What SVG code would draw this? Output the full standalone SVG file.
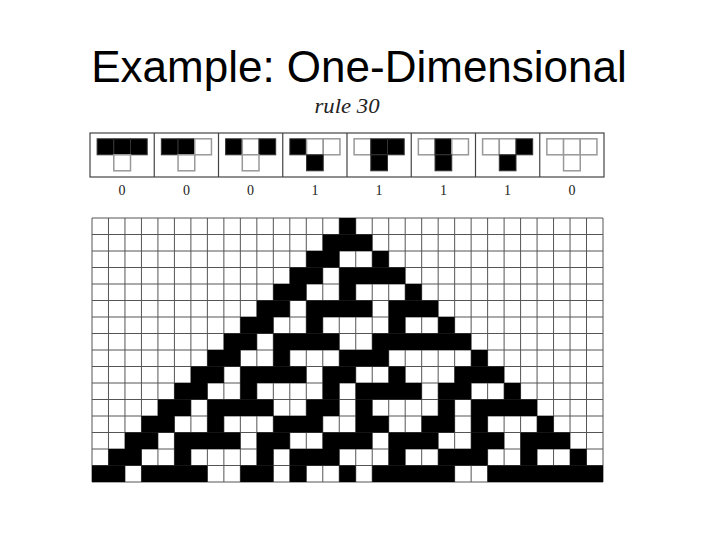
<svg xmlns="http://www.w3.org/2000/svg" width="720" height="540" viewBox="0 0 720 540">
<style>
.title{font-family:"Liberation Sans",Arial,sans-serif;font-size:44px;fill:#000}
.rule{font-family:"Liberation Serif","Times New Roman",serif;font-style:italic;font-size:21px;fill:#222}
.dig{font-family:"Liberation Serif","Times New Roman",serif;font-size:14px;fill:#222;text-anchor:middle}
.b{fill:#000;stroke:#333;stroke-width:1}
.w{fill:#fff;stroke:#999;stroke-width:1.5}
.frame{fill:none;stroke:#444;stroke-width:1.2}
.grid{fill:none;stroke:#555;stroke-width:1}
</style>
<rect width="720" height="540" fill="#fff"/>
<text class="title" x="359" y="82" text-anchor="middle">Example: One-Dimensional</text>
<text class="rule" x="347" y="113" text-anchor="middle" textLength="65" lengthAdjust="spacingAndGlyphs">rule 30</text>

<g id="rule-panel">
  <rect class="frame" x="90" y="133" width="514" height="44"/>
  <path class="frame" d="M154.25 133V177M218.5 133V177M282.75 133V177M347 133V177M411.25 133V177M475.5 133V177M539.75 133V177"/>
  <g id="r111" transform="translate(97.1,138.8)">
    <rect class="b" x="0" y="0" width="16.7" height="16"/><rect class="b" x="16.7" y="0" width="16.7" height="16"/><rect class="b" x="33.4" y="0" width="16.7" height="16"/>
    <rect class="w" x="16.7" y="16" width="16.7" height="16"/>
  </g>
  <g id="r110" transform="translate(161.35,138.8)">
    <rect class="b" x="0" y="0" width="16.7" height="16"/><rect class="b" x="16.7" y="0" width="16.7" height="16"/><rect class="w" x="33.4" y="0" width="16.7" height="16"/>
    <rect class="w" x="16.7" y="16" width="16.7" height="16"/>
  </g>
  <g id="r101" transform="translate(225.6,138.8)">
    <rect class="b" x="0" y="0" width="16.7" height="16"/><rect class="w" x="16.7" y="0" width="16.7" height="16"/><rect class="b" x="33.4" y="0" width="16.7" height="16"/>
    <rect class="w" x="16.7" y="16" width="16.7" height="16"/>
  </g>
  <g id="r100" transform="translate(289.85,138.8)">
    <rect class="b" x="0" y="0" width="16.7" height="16"/><rect class="w" x="16.7" y="0" width="16.7" height="16"/><rect class="w" x="33.4" y="0" width="16.7" height="16"/>
    <rect class="b" x="16.7" y="16" width="16.7" height="16"/>
  </g>
  <g id="r011" transform="translate(354.1,138.8)">
    <rect class="w" x="0" y="0" width="16.7" height="16"/><rect class="b" x="16.7" y="0" width="16.7" height="16"/><rect class="b" x="33.4" y="0" width="16.7" height="16"/>
    <rect class="b" x="16.7" y="16" width="16.7" height="16"/>
  </g>
  <g id="r010" transform="translate(418.35,138.8)">
    <rect class="w" x="0" y="0" width="16.7" height="16"/><rect class="b" x="16.7" y="0" width="16.7" height="16"/><rect class="w" x="33.4" y="0" width="16.7" height="16"/>
    <rect class="b" x="16.7" y="16" width="16.7" height="16"/>
  </g>
  <g id="r001" transform="translate(482.6,138.8)">
    <rect class="w" x="0" y="0" width="16.7" height="16"/><rect class="w" x="16.7" y="0" width="16.7" height="16"/><rect class="b" x="33.4" y="0" width="16.7" height="16"/>
    <rect class="b" x="16.7" y="16" width="16.7" height="16"/>
  </g>
  <g id="r000" transform="translate(546.85,138.8)">
    <rect class="w" x="0" y="0" width="16.7" height="16"/><rect class="w" x="16.7" y="0" width="16.7" height="16"/><rect class="w" x="33.4" y="0" width="16.7" height="16"/>
    <rect class="w" x="16.7" y="16" width="16.7" height="16"/>
  </g>
  <g id="outputs">
    <text class="dig" x="122.1" y="195">0</text>
    <text class="dig" x="186.4" y="195">0</text>
    <text class="dig" x="250.6" y="195">0</text>
    <text class="dig" x="314.9" y="195">1</text>
    <text class="dig" x="379.1" y="195">1</text>
    <text class="dig" x="443.4" y="195">1</text>
    <text class="dig" x="507.6" y="195">1</text>
    <text class="dig" x="571.9" y="195">0</text>
  </g>
</g>

<g id="evolution" transform="translate(92,218) scale(16.484,16.5)">
  <rect x="0" y="0" width="31" height="16" fill="#fff"/>
  <path class="grid" vector-effect="non-scaling-stroke" d="M0 0V16M1 0V16M2 0V16M3 0V16M4 0V16M5 0V16M6 0V16M7 0V16M8 0V16M9 0V16M10 0V16M11 0V16M12 0V16M13 0V16M14 0V16M15 0V16M16 0V16M17 0V16M18 0V16M19 0V16M20 0V16M21 0V16M22 0V16M23 0V16M24 0V16M25 0V16M26 0V16M27 0V16M28 0V16M29 0V16M30 0V16M31 0V16M0 0H31M0 1H31M0 2H31M0 3H31M0 4H31M0 5H31M0 6H31M0 7H31M0 8H31M0 9H31M0 10H31M0 11H31M0 12H31M0 13H31M0 14H31M0 15H31M0 16H31"/>
  <g fill="#000">
    <rect x="15" y="0" width="1" height="1"/>
    <rect x="14" y="1" width="3" height="1"/>
    <rect x="13" y="2" width="2" height="1"/><rect x="17" y="2" width="1" height="1"/>
    <rect x="12" y="3" width="2" height="1"/><rect x="15" y="3" width="4" height="1"/>
    <rect x="11" y="4" width="2" height="1"/><rect x="15" y="4" width="1" height="1"/><rect x="19" y="4" width="1" height="1"/>
    <rect x="10" y="5" width="2" height="1"/><rect x="13" y="5" width="4" height="1"/><rect x="18" y="5" width="3" height="1"/>
    <rect x="9" y="6" width="2" height="1"/><rect x="13" y="6" width="1" height="1"/><rect x="18" y="6" width="1" height="1"/><rect x="21" y="6" width="1" height="1"/>
    <rect x="8" y="7" width="2" height="1"/><rect x="11" y="7" width="4" height="1"/><rect x="17" y="7" width="6" height="1"/>
    <rect x="7" y="8" width="2" height="1"/><rect x="11" y="8" width="1" height="1"/><rect x="15" y="8" width="3" height="1"/><rect x="23" y="8" width="1" height="1"/>
    <rect x="6" y="9" width="2" height="1"/><rect x="9" y="9" width="4" height="1"/><rect x="14" y="9" width="2" height="1"/><rect x="18" y="9" width="1" height="1"/><rect x="22" y="9" width="3" height="1"/>
    <rect x="5" y="10" width="2" height="1"/><rect x="9" y="10" width="1" height="1"/><rect x="14" y="10" width="1" height="1"/><rect x="16" y="10" width="4" height="1"/><rect x="21" y="10" width="2" height="1"/><rect x="25" y="10" width="1" height="1"/>
    <rect x="4" y="11" width="2" height="1"/><rect x="7" y="11" width="4" height="1"/><rect x="13" y="11" width="2" height="1"/><rect x="16" y="11" width="1" height="1"/><rect x="21" y="11" width="1" height="1"/><rect x="23" y="11" width="4" height="1"/>
    <rect x="3" y="12" width="2" height="1"/><rect x="7" y="12" width="1" height="1"/><rect x="11" y="12" width="3" height="1"/><rect x="16" y="12" width="2" height="1"/><rect x="20" y="12" width="2" height="1"/><rect x="23" y="12" width="1" height="1"/><rect x="27" y="12" width="1" height="1"/>
    <rect x="2" y="13" width="2" height="1"/><rect x="5" y="13" width="4" height="1"/><rect x="10" y="13" width="2" height="1"/><rect x="14" y="13" width="3" height="1"/><rect x="18" y="13" width="3" height="1"/><rect x="23" y="13" width="2" height="1"/><rect x="26" y="13" width="3" height="1"/>
    <rect x="1" y="14" width="2" height="1"/><rect x="5" y="14" width="1" height="1"/><rect x="10" y="14" width="1" height="1"/><rect x="12" y="14" width="3" height="1"/><rect x="18" y="14" width="1" height="1"/><rect x="21" y="14" width="3" height="1"/><rect x="26" y="14" width="1" height="1"/><rect x="29" y="14" width="1" height="1"/>
    <rect x="0" y="15" width="2" height="1"/><rect x="3" y="15" width="4" height="1"/><rect x="9" y="15" width="2" height="1"/><rect x="12" y="15" width="1" height="1"/><rect x="15" y="15" width="1" height="1"/><rect x="17" y="15" width="5" height="1"/><rect x="24" y="15" width="7" height="1"/>
  </g>
</g>
</svg>
